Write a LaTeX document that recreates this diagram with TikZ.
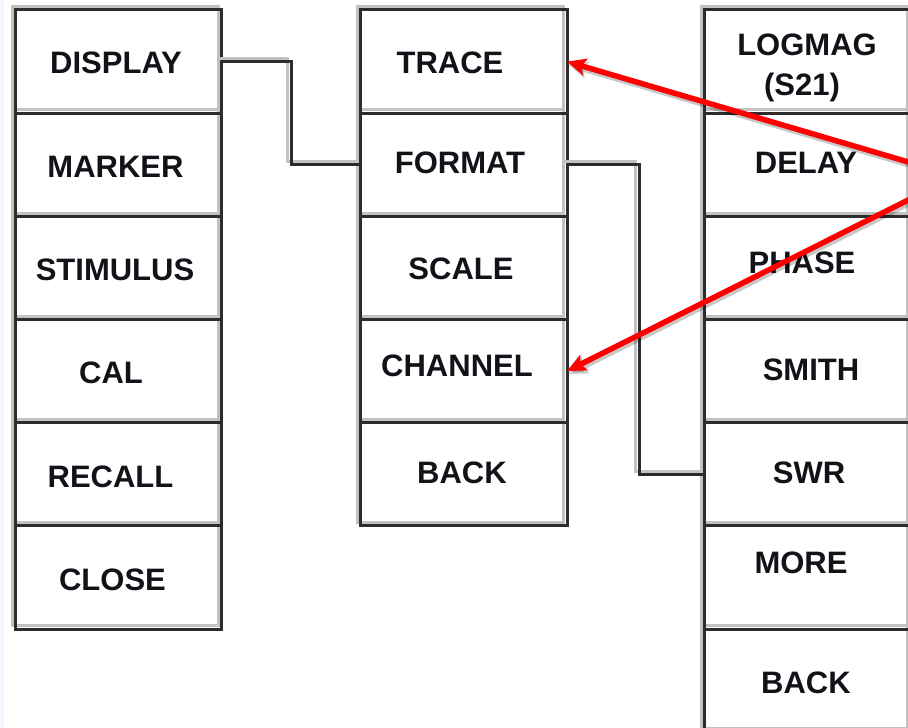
\documentclass[tikz,border=0pt]{standalone}
\usepackage{fontspec}
\setmainfont{Liberation Sans}
\usetikzlibrary{arrows.meta}

\definecolor{frameDark}{HTML}{2C2C2C}
\definecolor{frameLight}{HTML}{C2C2C2}
\definecolor{labelInk}{HTML}{121218}
\definecolor{pointerRed}{HTML}{FF0000}
\definecolor{edgeTint}{HTML}{F2F6FF}

% a line drawn with a pale band on its upper/left side, then the dark stroke
\newcommand\bevelpath[1]{%
  \draw[frameLight, line width=3pt, line cap=rect, transform canvas={shift={(-3.2pt,3.2pt)}}] #1;
  \draw[frameDark, line width=3pt, line cap=rect] #1;}

\tikzset{
  cellL/.style={rectangle, inner sep=0pt, outer sep=0pt, minimum width=206pt, minimum height=103.17pt},
  cellM/.style={rectangle, inner sep=0pt, outer sep=0pt, minimum width=206.5pt, minimum height=103.17pt},
  cellR/.style={rectangle, inner sep=0pt, outer sep=0pt, minimum width=206.7pt, minimum height=103.17pt},
  keytext/.style={font=\fontsize{31}{36}\selectfont\bfseries, text=labelInk, anchor=base, inner sep=0pt},
  pointer/.style={pointerRed, line width=5.5pt, -{Stealth[length=19pt, width=17pt, inset=4pt]}},
  pointershade/.style={black, opacity=0.22, line width=5.5pt, -{Stealth[length=19pt, width=17pt, inset=4pt]},
    transform canvas={shift={(1.5pt,-3pt)}}},
}

\begin{document}
\begin{tikzpicture}[x=1pt, y=-1pt]
  \useasboundingbox (0,0) rectangle (908,728);
  \clip (0,0) rectangle (908,728);
  \fill[white] (0,0) rectangle (908,728);
  \fill[edgeTint] (0,0) rectangle (4,728);

  % main menu column
  \node[cellL] (cDisplay)  at (118.7, 61.58) {};
  \node[cellL] (cMarker)   at (118.7,164.75) {};
  \node[cellL] (cStimulus) at (118.7,267.92) {};
  \node[cellL] (cCal)      at (118.7,371.08) {};
  \node[cellL] (cRecall)   at (118.7,474.25) {};
  \node[cellL] (cClose)    at (118.7,577.42) {};

  % display sub-menu column
  \node[cellM] (cTrace)    at (463.75, 61.58) {};
  \node[cellM] (cFormat)   at (463.75,164.75) {};
  \node[cellM] (cScale)    at (463.75,267.92) {};
  \node[cellM] (cChannel)  at (463.75,371.08) {};
  \node[cellM] (cBackM)    at (463.75,474.25) {};

  % format sub-menu column
  \node[cellR] (cLogmag)   at (807.65, 61.58) {};
  \node[cellR] (cDelay)    at (807.65,164.75) {};
  \node[cellR] (cPhase)    at (807.65,267.92) {};
  \node[cellR] (cSmith)    at (807.65,371.08) {};
  \node[cellR] (cSwr)      at (807.65,474.25) {};
  \node[cellR] (cMore)     at (807.65,577.42) {};
  \node[cellR] (cBackR)    at (807.65,680.58) {};

  % cell frames
  \foreach \c in {cDisplay,cMarker,cStimulus,cCal,cRecall,cClose,
                  cTrace,cFormat,cScale,cChannel,cBackM,
                  cLogmag,cDelay,cPhase,cSmith,cSwr,cMore,cBackR}{
    \draw[frameLight, line width=3pt, transform canvas={shift={(-3.2pt,3.2pt)}}]
      (\c.north west) rectangle (\c.south east);
  }
  \foreach \c in {cDisplay,cMarker,cStimulus,cCal,cRecall,cClose,
                  cTrace,cFormat,cScale,cChannel,cBackM,
                  cLogmag,cDelay,cPhase,cSmith,cSwr,cMore,cBackR}{
    \draw[frameDark, line width=3pt]
      (\c.north west) rectangle (\c.south east);
  }

  % menu links
  \bevelpath{(cDisplay.east) -- ++(69.3,0) |- (cFormat.west)}
  \bevelpath{(cFormat.east) -- ++(72,0) |- (cSwr.west)}

  % labels
  \node[keytext] (tDisplay)  at (116,73)   {DISPLAY};
  \node[keytext] (tMarker)   at (115.5,177) {MARKER};
  \node[keytext] (tStimulus) at (115,280)  {STIMULUS};
  \node[keytext] (tCal)      at (111,383)  {CAL};
  \node[keytext] (tRecall)   at (110.5,487) {RECALL};
  \node[keytext] (tClose)    at (112.5,590) {CLOSE};

  \node[keytext] (tTrace)    at (450,73)   {TRACE};
  \node[keytext] (tFormat)   at (460,173)  {FORMAT};
  \node[keytext] (tScale)    at (461,279)  {SCALE};
  \node[keytext] (tChannel)  at (457,376)  {CHANNEL};
  \node[keytext] (tBackM)    at (462,483)  {BACK};

  \node[keytext] (tLogmag)   at (807,55)   {LOGMAG};
  \node[keytext] (tSTwoOne)  at (802,95)   {(S21)};
  \node[keytext] (tDelay)    at (806,173)  {DELAY};
  \node[keytext] (tPhase)    at (802,273)  {PHASE};
  \node[keytext] (tSmith)    at (811,380)  {SMITH};
  \node[keytext] (tSwr)      at (809,483)  {SWR};
  \node[keytext] (tMore)     at (801,573)  {MORE};
  \node[keytext] (tBackR)    at (806,693)  {BACK};

  % red pointers
  \coordinate (src) at (956,176);
  \draw[pointershade] (src) -- (cTrace.east);
  \draw[pointershade] (src) -- (cChannel.east);
  \draw[pointer] (src) -- (cTrace.east);
  \draw[pointer] (src) -- (cChannel.east);
\end{tikzpicture}
\end{document}
